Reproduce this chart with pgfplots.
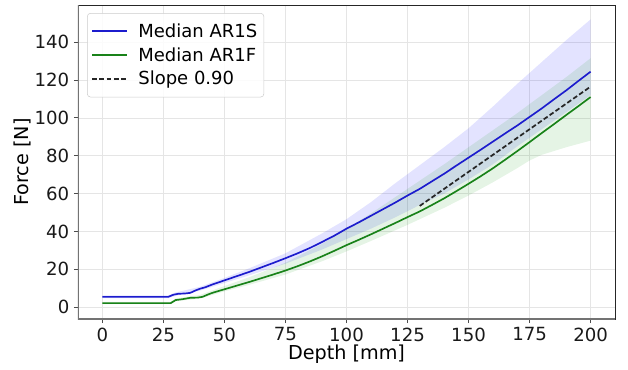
\documentclass[border=0pt]{standalone}
\usepackage{fontspec}
\setmainfont{DejaVu Sans}
\usepackage{pgfplots}
\usepackage{pgfplotstable}
\pgfplotsset{compat=1.18}
\usepgfplotslibrary{fillbetween}
\definecolor{mblue}{RGB}{28,28,205}
\definecolor{mgreen}{RGB}{25,130,25}
\definecolor{fblue}{RGB}{0,0,255}
\definecolor{fgreen}{RGB}{0,150,0}
\newcommand{\lf}{\fontsize{13.5}{16}\selectfont}

\pgfplotstableread{
x med
0 5.5
27 5.5
29 6.6
31 7.1
34 7.3
36 7.6
38 8.8
40 9.8
42 10.5
45 12.0
50 14.2
55 16.4
60 18.6
65 21.0
70 23.4
75 25.9
80 28.5
85 31.3
90 34.5
95 37.8
100 41.5
105 44.8
110 48.3
115 51.8
120 55.3
125 59.0
130 62.5
135 66.5
140 70.5
145 74.8
150 79.0
155 83.2
160 87.5
165 91.8
170 96.0
175 100.5
180 105.0
185 109.8
190 114.5
195 119.5
200 124.4
}\bluemed

\pgfplotstableread{
x lo hi
0 4.8 6.3
27 4.8 6.3
30 6.0 7.8
40 8.8 10.8
50 12.8 15.5
60 16.8 20.5
75 23.0 28.5
90 30.5 39.0
100 36.0 46.5
110 41.5 55.5
120 47.5 65.5
130 54.0 75.0
140 60.0 84.5
150 67.5 94.5
160 75.5 106.0
170 85.0 118.0
180 94.0 129.5
190 103.0 141.0
200 112.0 152.0
}\blueband

\pgfplotstableread{
x med
0 2.2
28 2.2
30 3.8
33 4.3
36 5.0
39 5.1
41 5.5
43 6.6
45 7.6
50 9.5
55 11.4
60 13.3
65 15.3
70 17.3
75 19.4
80 21.7
85 24.2
90 26.9
95 29.8
100 32.8
105 35.6
110 38.5
115 41.5
120 44.5
125 47.6
130 50.6
135 54.0
140 57.5
145 61.3
150 65.2
155 69.2
160 73.4
165 77.9
170 82.5
175 87.2
180 92.0
185 96.7
190 101.5
195 106.2
200 111.0
}\greenmed

\pgfplotstableread{
x lo hi
0 1.6 2.8
28 1.6 2.8
30 3.2 4.6
40 4.6 6.5
50 8.4 11.2
60 11.8 15.8
75 17.3 23.5
90 24.3 33.5
100 29.5 41.5
110 35.0 49.5
125 43.5 62.5
140 52.5 75.5
150 59.0 84.5
160 66.0 93.5
170 73.5 102.5
175 77.5 107.3
180 80.5 112.0
190 84.5 121.5
200 88.0 131.5
}\greenband

\pgfplotstableread{
x y
130 53.5
200 116.5
}\slope

\begin{document}
\begin{tikzpicture}
\begin{axis}[
  scale only axis,
  width=402.75pt, height=235.5pt,
  xmin=-10, xmax=210, ymin=-6.2, ymax=159.6,
  xtick={0,25,...,200}, ytick={0,20,...,140},
  /pgf/number format/assume math mode=true,
  tick label style={font=\fontsize{13.6}{16}\selectfont, text=black!90},
  label style={font=\fontsize{14.4}{17}\selectfont},
  xlabel={Depth [mm]}, ylabel={Force [N]},
  xlabel style={at={(axis description cs:0.5,-0.111)}, anchor=center},
  ylabel style={at={(axis description cs:-0.104,0.5)}, anchor=center},
  tick align=outside, major tick length=3pt,
  xtick pos=bottom, ytick pos=left,
  every tick/.style={black!70, line width=0.6pt},
  grid=major, major grid style={black!10, line width=0.5pt},
  axis line style={black!85, line width=0.6pt},
  legend style={at={(axis description cs:0.0168,0.9745)}, anchor=north west,
    draw=black!20, fill=white, fill opacity=0.85, text opacity=1,
    rounded corners=2.5pt,
    inner xsep=3pt, inner ysep=5.6pt, row sep=2.2pt},
  legend cell align=left,
  legend image code/.code={\draw[#1] (0pt,0pt) -- (26pt,0pt); \path (32pt,0pt);},
]
\addplot[name path=bu, draw=none, forget plot] table[x=x, y=hi] {\blueband};
\addplot[name path=bl, draw=none, forget plot] table[x=x, y=lo] {\blueband};
\addplot[fill=fblue, fill opacity=0.11, draw=none, forget plot] fill between[of=bu and bl];
\addplot[name path=gu, draw=none, forget plot] table[x=x, y=hi] {\greenband};
\addplot[name path=gl, draw=none, forget plot] table[x=x, y=lo] {\greenband};
\addplot[fill=fgreen, fill opacity=0.1, draw=none, forget plot] fill between[of=gu and gl];

\addplot[mblue, line width=1.25pt] table[x=x, y=med] {\bluemed};
\addlegendentry{\lf Median AR1S}
\addplot[mgreen, line width=1.25pt] table[x=x, y=med] {\greenmed};
\addlegendentry{\lf Median AR1F}
\addplot[black!85, line width=1.3pt, dash pattern=on 3.6pt off 1.8pt] table[x=x, y=y] {\slope};
\addlegendentry{\lf Slope 0.90}

\draw[black!55, line width=1.3pt] (rel axis cs:0,1) -- (rel axis cs:0,0) -- (rel axis cs:1,0);
\end{axis}
\pgfresetboundingbox
\path[use as bounding box] (-58.5pt,-37.5pt) rectangle (412.5pt,239.25pt);
\end{tikzpicture}
\end{document}
